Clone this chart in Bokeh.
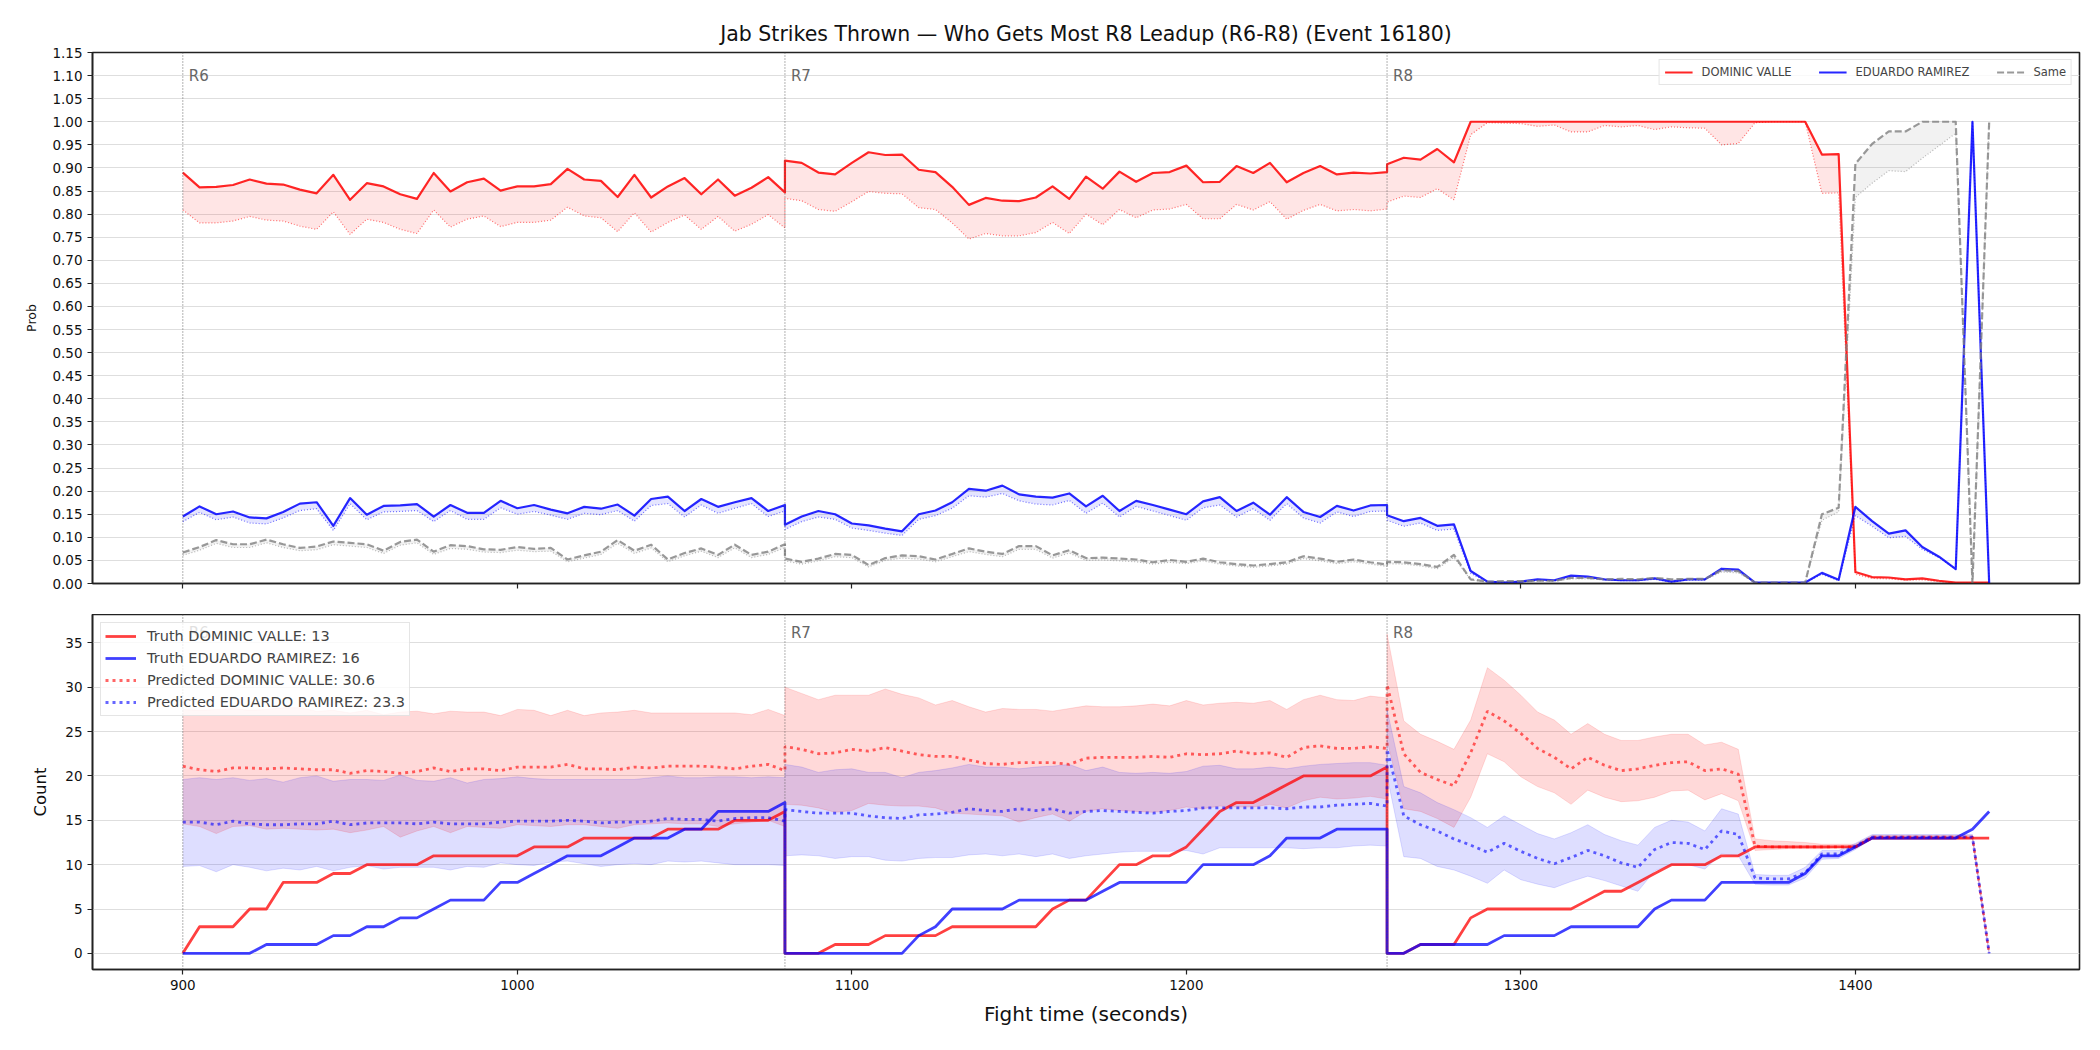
from bokeh.plotting import figure
from bokeh.models import (Range1d, FixedTicker, ColumnDataSource, Span, Label,
                          NumeralTickFormatter)
from bokeh.layouts import column
from bokeh.embed import file_html
from bokeh.resources import INLINE

FONT = "DejaVu Sans"
TITLE = "Jab Strikes Thrown \u2014 Who Gets Most R8 Leadup (R6-R8) (Event 16180)"

ROUND_NAMES = ["R6", "R7", "R8"]
ROUND_STARTS = [900, 1080, 1260]
STEP = 5
N_PER_ROUND = 37
T = [s + STEP * i for s in ROUND_STARTS for i in range(N_PER_ROUND)]

FIGHTER_A = "DOMINIC VALLE"
FIGHTER_B = "EDUARDO RAMIREZ"
TRUTH_A_FINAL = 13
TRUTH_B_FINAL = 16
PRED_A_FINAL = 30.6
PRED_B_FINAL = 23.3

# ---------------- top panel: probabilities ----------------
PROB_A = [
    0.890, 0.858, 0.859, 0.863, 0.875, 0.866, 0.864, 0.853, 0.845, 0.885,
    0.831, 0.867, 0.860, 0.843, 0.833, 0.889, 0.849, 0.869, 0.877, 0.851,
    0.860, 0.860, 0.865, 0.898, 0.875, 0.872, 0.837, 0.885, 0.836, 0.860,
    0.878, 0.843, 0.875, 0.840, 0.857, 0.880, 0.847,
    0.916, 0.911, 0.890, 0.886, 0.911, 0.934, 0.928, 0.929, 0.896, 0.891,
    0.859, 0.820, 0.835, 0.829, 0.828, 0.836, 0.860, 0.833, 0.881, 0.855,
    0.892, 0.870, 0.889, 0.891, 0.905, 0.869, 0.870, 0.904, 0.889, 0.911,
    0.869, 0.889, 0.904, 0.886, 0.890, 0.888, 0.891,
    0.908, 0.922, 0.918, 0.941, 0.912, 1.000, 1.000, 1.000, 1.000, 1.000,
    1.000, 1.000, 1.000, 1.000, 1.000, 1.000, 1.000, 1.000, 1.000, 1.000,
    1.000, 1.000, 1.000, 1.000, 1.000, 1.000, 0.929, 0.930, 0.025, 0.014,
    0.013, 0.009, 0.011, 0.006, 0.002, 0.002, 0.002,
]
PROB_A_LO = [
    0.809, 0.781, 0.781, 0.785, 0.795, 0.787, 0.785, 0.774, 0.767, 0.805,
    0.756, 0.789, 0.782, 0.767, 0.758, 0.809, 0.772, 0.789, 0.796, 0.773,
    0.782, 0.782, 0.787, 0.815, 0.796, 0.792, 0.762, 0.803, 0.761, 0.782,
    0.798, 0.767, 0.795, 0.763, 0.778, 0.799, 0.770,
    0.834, 0.829, 0.810, 0.806, 0.827, 0.849, 0.845, 0.844, 0.814, 0.810,
    0.781, 0.746, 0.758, 0.753, 0.753, 0.760, 0.782, 0.758, 0.800, 0.777,
    0.810, 0.792, 0.809, 0.811, 0.821, 0.790, 0.790, 0.821, 0.809, 0.827,
    0.789, 0.808, 0.821, 0.807, 0.810, 0.807, 0.811,
    0.826, 0.839, 0.836, 0.855, 0.831, 0.972, 0.998, 0.997, 0.996, 0.990,
    0.993, 0.978, 0.978, 0.992, 0.989, 0.992, 0.983, 0.989, 0.987, 0.986,
    0.950, 0.953, 0.998, 1.000, 1.000, 1.000, 0.845, 0.846, 0.020, 0.011,
    0.010, 0.007, 0.008, 0.004, 0.001, 0.001, 0.001,
]
PROB_B = [
    0.145, 0.167, 0.150, 0.156, 0.143, 0.141, 0.155, 0.173, 0.176, 0.125,
    0.185, 0.149, 0.168, 0.169, 0.172, 0.145, 0.170, 0.153, 0.153, 0.179,
    0.163, 0.170, 0.160, 0.152, 0.166, 0.162, 0.171, 0.147, 0.183, 0.188,
    0.157, 0.183, 0.166, 0.176, 0.185, 0.157, 0.170,
    0.127, 0.145, 0.157, 0.150, 0.130, 0.126, 0.119, 0.113, 0.150, 0.158,
    0.176, 0.205, 0.201, 0.212, 0.193, 0.188, 0.186, 0.195, 0.167, 0.190,
    0.157, 0.179, 0.170, 0.160, 0.150, 0.178, 0.187, 0.157, 0.175, 0.149,
    0.187, 0.155, 0.144, 0.168, 0.158, 0.169, 0.170,
    0.148, 0.135, 0.142, 0.125, 0.128, 0.027, 0.004, 0.002, 0.004, 0.009,
    0.007, 0.017, 0.015, 0.009, 0.007, 0.007, 0.011, 0.004, 0.009, 0.009,
    0.032, 0.030, 0.002, 0.002, 0.002, 0.002, 0.023, 0.008, 0.166, 0.135,
    0.108, 0.115, 0.079, 0.058, 0.031, 1.000, 0.000,
]
PROB_B_LO = [
    0.134, 0.154, 0.138, 0.144, 0.131, 0.129, 0.142, 0.158, 0.162, 0.115,
    0.173, 0.138, 0.155, 0.156, 0.158, 0.134, 0.158, 0.139, 0.139, 0.164,
    0.150, 0.156, 0.148, 0.139, 0.152, 0.149, 0.158, 0.135, 0.169, 0.173,
    0.144, 0.170, 0.152, 0.163, 0.173, 0.145, 0.157,
    0.117, 0.134, 0.144, 0.139, 0.120, 0.115, 0.109, 0.104, 0.139, 0.147,
    0.163, 0.190, 0.187, 0.195, 0.179, 0.172, 0.170, 0.180, 0.152, 0.174,
    0.144, 0.167, 0.157, 0.147, 0.137, 0.164, 0.170, 0.144, 0.162, 0.137,
    0.173, 0.142, 0.131, 0.155, 0.145, 0.156, 0.157,
    0.137, 0.124, 0.131, 0.115, 0.118, 0.022, 0.003, 0.002, 0.003, 0.007,
    0.006, 0.014, 0.013, 0.008, 0.006, 0.006, 0.009, 0.003, 0.008, 0.008,
    0.028, 0.026, 0.002, 0.002, 0.002, 0.002, 0.020, 0.006, 0.147, 0.124,
    0.099, 0.102, 0.074, 0.056, 0.031, 1.000, 0.000,
]
PROB_SAME = [
    0.067, 0.079, 0.094, 0.085, 0.085, 0.095, 0.085, 0.077, 0.080, 0.091,
    0.088, 0.085, 0.071, 0.090, 0.095, 0.069, 0.083, 0.081, 0.074, 0.073,
    0.079, 0.075, 0.077, 0.052, 0.061, 0.069, 0.094, 0.071, 0.084, 0.052,
    0.066, 0.076, 0.062, 0.084, 0.062, 0.069, 0.085,
    0.054, 0.047, 0.054, 0.064, 0.062, 0.040, 0.055, 0.061, 0.059, 0.052,
    0.064, 0.076, 0.069, 0.064, 0.081, 0.081, 0.061, 0.072, 0.055, 0.056,
    0.054, 0.052, 0.046, 0.051, 0.047, 0.054, 0.046, 0.042, 0.039, 0.042,
    0.046, 0.059, 0.054, 0.047, 0.052, 0.046, 0.041,
    0.047, 0.046, 0.042, 0.036, 0.062, 0.009, 0.004, 0.005, 0.005, 0.006,
    0.006, 0.012, 0.012, 0.009, 0.010, 0.009, 0.012, 0.009, 0.010, 0.010,
    0.029, 0.027, 0.002, 0.002, 0.002, 0.002, 0.150, 0.164, 0.909, 0.952,
    0.979, 0.979, 1.000, 1.000, 1.000, 0.000, 1.000,
]
PROB_SAME_LO = [
    0.061, 0.072, 0.087, 0.078, 0.078, 0.088, 0.078, 0.071, 0.073, 0.084,
    0.081, 0.078, 0.065, 0.083, 0.088, 0.063, 0.076, 0.074, 0.068, 0.067,
    0.072, 0.069, 0.070, 0.047, 0.055, 0.063, 0.087, 0.065, 0.077, 0.047,
    0.060, 0.070, 0.056, 0.077, 0.056, 0.063, 0.078,
    0.049, 0.042, 0.049, 0.058, 0.056, 0.036, 0.050, 0.055, 0.053, 0.047,
    0.058, 0.069, 0.063, 0.058, 0.074, 0.074, 0.055, 0.066, 0.050, 0.051,
    0.049, 0.047, 0.042, 0.046, 0.043, 0.049, 0.042, 0.038, 0.035, 0.038,
    0.042, 0.054, 0.049, 0.043, 0.047, 0.042, 0.037,
    0.043, 0.042, 0.038, 0.032, 0.056, 0.008, 0.003, 0.004, 0.004, 0.005,
    0.005, 0.010, 0.010, 0.008, 0.008, 0.008, 0.010, 0.008, 0.008, 0.008,
    0.025, 0.023, 0.002, 0.002, 0.002, 0.002, 0.137, 0.155, 0.836, 0.867,
    0.894, 0.892, 0.921, 0.948, 0.975, 0.000, 1.000,
]

# ---------------- bottom panel: counts ----------------
TRUTH_A = [
    0, 3, 3, 3, 5, 5, 8, 8, 8, 9, 9, 10, 10, 10, 10, 11, 11, 11, 11, 11,
    11, 12, 12, 12, 13, 13, 13, 13, 13, 14, 14, 14, 14, 15, 15, 15, 16,
    0, 0, 0, 1, 1, 1, 2, 2, 2, 2, 3, 3, 3, 3, 3, 3, 5, 6, 6, 8,
    10, 10, 11, 11, 12, 14, 16, 17, 17, 18, 19, 20, 20, 20, 20, 20, 21,
    0, 0, 1, 1, 1, 4, 5, 5, 5, 5, 5, 5, 6, 7, 7, 8, 9, 10, 10, 10,
    11, 11, 12, 12, 12, 12, 12, 12, 12, 13, 13, 13, 13, 13, 13, 13, 13,
]
TRUTH_B = [
    0, 0, 0, 0, 0, 1, 1, 1, 1, 2, 2, 3, 3, 4, 4, 5, 6, 6, 6, 8,
    8, 9, 10, 11, 11, 11, 12, 13, 13, 13, 14, 14, 16, 16, 16, 16, 17,
    0, 0, 0, 0, 0, 0, 0, 0, 2, 3, 5, 5, 5, 5, 6, 6, 6, 6, 6, 7,
    8, 8, 8, 8, 8, 10, 10, 10, 10, 11, 13, 13, 13, 14, 14, 14, 14,
    0, 0, 1, 1, 1, 1, 1, 2, 2, 2, 2, 3, 3, 3, 3, 3, 5, 6, 6, 6,
    8, 8, 8, 8, 8, 9, 11, 11, 12, 13, 13, 13, 13, 13, 13, 14, 16,
]
PRED_A = [
    21.1, 20.7, 20.5, 20.9, 20.9, 20.8, 20.9, 20.8, 20.7, 20.7,
    20.3, 20.6, 20.5, 20.3, 20.5, 20.9, 20.5, 20.8, 20.8, 20.6,
    21.0, 21.0, 21.0, 21.3, 20.8, 20.8, 20.7, 21.0, 20.9, 21.1,
    21.1, 21.1, 21.0, 20.8, 21.1, 21.3, 20.6,
    23.3, 23.0, 22.5, 22.6, 23.0, 22.8, 23.2, 22.8, 22.4, 22.2,
    22.2, 21.8, 21.4, 21.3, 21.5, 21.5, 21.5, 21.3, 22.0, 22.1,
    22.1, 22.1, 22.2, 22.1, 22.5, 22.4, 22.5, 22.8, 22.5, 22.6,
    22.1, 23.2, 23.4, 23.1, 23.1, 23.3, 23.1,
    30.3, 22.5, 20.4, 19.6, 18.9, 22.6, 27.3, 26.2, 24.8, 23.1,
    22.1, 20.8, 22.1, 21.2, 20.6, 20.8, 21.2, 21.5, 21.6, 20.6,
    20.8, 20.2, 12.1, 12.0, 12.0, 12.0, 12.0, 12.0, 12.0, 13.1,
    13.1, 13.1, 13.1, 13.1, 13.1, 13.1, 0.0,
]
PRED_A_HI = [
    27.5, 27.4, 27.5, 27.6, 27.4, 27.5, 27.7, 27.7, 27.3, 27.4,
    27.1, 27.4, 26.9, 27.2, 27.3, 27.0, 27.3, 27.2, 27.2, 26.8,
    27.5, 27.4, 26.8, 27.4, 26.8, 27.1, 27.2, 27.4, 27.1, 27.1,
    27.1, 27.1, 27.1, 27.1, 26.9, 27.5, 26.8,
    30.0, 29.3, 28.6, 29.1, 29.1, 29.1, 29.8, 29.2, 28.8, 28.0,
    28.5, 27.8, 27.2, 27.6, 27.5, 27.5, 27.3, 27.6, 27.9, 27.8,
    27.8, 27.9, 28.1, 27.9, 28.5, 28.0, 28.2, 28.3, 28.2, 28.5,
    27.5, 28.6, 29.1, 28.6, 28.5, 29.0, 28.8,
    36.0, 26.2, 24.7, 23.9, 23.0, 26.3, 32.2, 30.8, 29.1, 27.2,
    26.3, 24.7, 25.9, 24.7, 24.0, 24.0, 24.4, 24.7, 24.7, 23.5,
    23.8, 23.0, 12.9, 12.7, 12.6, 12.5, 12.3, 12.3, 12.3, 13.3,
    13.3, 13.3, 13.3, 13.3, 13.3, 13.3, 0.0,
]
PRED_A_LO = [
    14.6, 14.3, 13.5, 14.3, 14.4, 14.0, 14.1, 14.0, 13.9, 14.0,
    13.6, 13.9, 14.3, 13.1, 13.8, 14.3, 13.6, 14.3, 14.2, 14.1,
    14.5, 14.4, 14.3, 14.5, 14.5, 14.3, 14.1, 14.5, 14.6, 14.7,
    14.6, 14.6, 14.3, 14.6, 14.8, 15.0, 14.3,
    16.8, 16.7, 16.4, 15.9, 16.1, 16.9, 16.7, 16.6, 16.6, 16.4,
    15.8, 15.7, 15.6, 15.5, 14.8, 15.3, 15.7, 14.9, 16.0, 16.3,
    16.1, 16.0, 15.9, 16.1, 16.5, 16.3, 16.6, 16.5, 16.5, 16.8,
    16.4, 17.2, 17.6, 17.4, 17.5, 17.7, 17.4,
    24.0, 16.3, 16.0, 15.2, 14.2, 17.6, 22.5, 21.6, 19.9, 18.8,
    18.1, 16.8, 18.4, 17.6, 17.1, 17.2, 17.6, 18.3, 18.4, 17.3,
    18.0, 17.2, 11.6, 11.7, 11.8, 11.8, 11.8, 11.9, 11.9, 12.9,
    12.9, 12.9, 12.9, 12.9, 12.9, 12.9, 0.0,
]
PRED_B = [
    14.8, 14.8, 14.5, 14.9, 14.6, 14.5, 14.5, 14.6, 14.6, 14.9,
    14.5, 14.7, 14.7, 14.7, 14.6, 14.8, 14.6, 14.6, 14.6, 14.8,
    14.9, 14.9, 14.9, 15.0, 14.9, 14.7, 14.8, 14.8, 14.9, 15.2,
    15.1, 15.1, 14.9, 15.2, 15.3, 15.3, 14.9,
    16.2, 16.0, 15.8, 15.8, 15.8, 15.5, 15.3, 15.2, 15.6, 15.7,
    15.9, 16.3, 16.1, 16.0, 16.3, 16.1, 16.3, 15.8, 16.0, 16.1,
    16.0, 15.9, 15.8, 16.0, 16.1, 16.4, 16.4, 16.4, 16.4, 16.4,
    16.3, 16.5, 16.5, 16.7, 16.8, 16.9, 16.6,
    23.0, 15.5, 14.5, 13.8, 12.9, 12.2, 11.4, 12.4, 11.5, 10.7,
    10.1, 10.8, 11.6, 11.0, 10.2, 9.7, 11.7, 12.5, 12.4, 11.7,
    13.8, 13.4, 8.5, 8.4, 8.4, 9.1, 11.2, 11.2, 12.1, 13.1,
    13.1, 13.1, 13.1, 13.1, 13.1, 13.1, 0.0,
]
PRED_B_HI = [
    19.6, 19.8, 19.6, 19.8, 19.5, 19.7, 19.3, 19.8, 20.0, 19.4,
    19.6, 19.6, 19.5, 20.1, 19.5, 19.4, 19.8, 19.2, 19.6, 19.7,
    19.9, 19.7, 19.6, 19.6, 19.6, 19.6, 19.6, 19.6, 19.8, 20.0,
    19.8, 19.8, 19.9, 19.9, 19.8, 19.9, 19.8,
    21.3, 21.0, 20.4, 20.7, 20.8, 20.4, 20.4, 19.8, 20.4, 20.6,
    20.9, 21.3, 21.0, 21.0, 20.8, 21.0, 21.1, 21.3, 20.6, 21.0,
    20.4, 20.3, 20.4, 20.3, 20.5, 21.1, 21.2, 20.8, 20.8, 21.0,
    20.8, 21.1, 21.3, 21.4, 21.5, 21.5, 21.2,
    27.5, 18.8, 18.1, 17.0, 16.2, 15.3, 14.2, 15.5, 14.5, 13.5,
    12.9, 13.6, 14.5, 13.4, 12.7, 12.2, 14.2, 15.0, 14.8, 13.8,
    16.3, 15.7, 8.9, 8.8, 8.8, 9.7, 11.6, 11.6, 12.4, 13.4,
    13.4, 13.4, 13.4, 13.4, 13.4, 13.4, 0.0,
]
PRED_B_LO = [
    9.8, 9.9, 9.2, 10.0, 9.7, 9.3, 9.6, 9.4, 9.8, 9.3,
    9.7, 9.9, 9.5, 9.7, 9.7, 9.7, 9.4, 9.8, 9.7, 10.2,
    10.0, 9.9, 10.3, 10.4, 10.1, 9.8, 10.0, 10.1, 10.0, 10.4,
    10.3, 10.4, 10.2, 10.0, 10.0, 10.0, 9.9,
    11.0, 11.1, 11.0, 10.7, 10.9, 10.9, 10.5, 10.4, 10.7, 10.8,
    10.8, 11.1, 11.2, 11.0, 11.2, 10.9, 11.2, 10.7, 11.0, 11.2,
    11.4, 11.5, 11.5, 11.5, 11.6, 11.2, 11.9, 11.9, 11.9, 11.9,
    11.9, 11.8, 11.9, 11.9, 12.1, 12.2, 12.1,
    20.0, 10.9, 10.7, 9.8, 9.4, 8.7, 7.9, 9.4, 8.3, 7.8,
    7.4, 8.1, 8.7, 8.2, 7.6, 7.0, 9.3, 10.0, 10.0, 9.5,
    11.2, 11.0, 7.8, 7.7, 7.7, 8.5, 10.6, 10.7, 11.7, 12.9,
    12.9, 12.9, 12.9, 12.9, 12.9, 12.9, 0.0,
]

X_TICKS = [900, 1000, 1100, 1200, 1300, 1400]
PROB_TICKS = [round(0.05 * i, 2) for i in range(24)]
COUNT_TICKS = [0, 5, 10, 15, 20, 25, 30, 35]

src = ColumnDataSource(dict(
    t=T, pa=PROB_A, pa_lo=PROB_A_LO, pb=PROB_B, pb_lo=PROB_B_LO,
    ps=PROB_SAME, ps_lo=PROB_SAME_LO,
    ta=TRUTH_A, tb=TRUTH_B, ca=PRED_A, ca_hi=PRED_A_HI, ca_lo=PRED_A_LO,
    cb=PRED_B, cb_hi=PRED_B_HI, cb_lo=PRED_B_LO,
))

x_range = Range1d(873, 1467)


def style_axes(p):
    p.outline_line_color = "#222222"
    p.outline_line_width = 1.6
    p.outline_line_alpha = 1
    for ax in (p.xaxis[0], p.yaxis[0]):
        ax.axis_line_color = "#222222"
        ax.axis_line_width = 1.6
        ax.major_tick_line_color = "#222222"
        ax.major_tick_line_width = 1.2
        ax.major_tick_out = 5
        ax.major_tick_in = 0
        ax.minor_tick_line_color = None
        ax.major_label_text_font = FONT
        ax.major_label_text_font_size = "13.5px"
        ax.major_label_text_color = "#111111"
        ax.axis_label_text_font = FONT
        ax.axis_label_text_font_style = "normal"
        ax.axis_label_text_color = "#111111"
    p.xgrid.grid_line_color = None
    p.ygrid.grid_line_color = "#dedede"
    p.ygrid.grid_line_width = 1


def add_rounds(p, ytext):
    for name, start in zip(ROUND_NAMES, ROUND_STARTS):
        p.add_layout(Span(location=start, dimension="height", line_color="#555555",
                          line_alpha=0.9, line_width=1, line_dash="1 2"))
        p.add_layout(Label(x=start, y=ytext, text=name, x_offset=6,
                           text_baseline="middle", text_font=FONT,
                           text_font_size="15px", text_color="#666666"))


# ---------------- top figure ----------------
p1 = figure(width=2100, height=614, x_range=x_range, y_range=Range1d(0, 1.15),
            output_backend="svg", toolbar_location=None, title=TITLE,
            min_border_left=92, min_border_right=21, min_border_top=52,
            min_border_bottom=31)
p1.title.text_font = FONT
p1.title.text_font_size = "20.5px"
p1.title.text_font_style = "normal"
p1.title.align = "center"
p1.title.text_color = "#111111"
p1.title.standoff = 14
style_axes(p1)
p1.xaxis.ticker = FixedTicker(ticks=X_TICKS)
p1.xaxis.major_label_overrides = {v: "" for v in X_TICKS}
p1.yaxis.ticker = FixedTicker(ticks=PROB_TICKS)
p1.yaxis.formatter = NumeralTickFormatter(format="0.00")
p1.yaxis.axis_label = "Prob"
p1.yaxis.axis_label_text_font_size = "12.5px"
p1.yaxis.axis_label_standoff = 10

add_rounds(p1, 1.10)

p1.varea(x="t", y1="pa_lo", y2="pa", source=src, fill_color="red", fill_alpha=0.1)
p1.varea(x="t", y1="pb_lo", y2="pb", source=src, fill_color="blue", fill_alpha=0.1)
p1.varea(x="t", y1="ps_lo", y2="ps", source=src, fill_color="gray", fill_alpha=0.1)
p1.line("t", "pa_lo", source=src, line_color="red", line_alpha=0.55, line_width=1.2,
        line_dash="1 2")
p1.line("t", "pb_lo", source=src, line_color="blue", line_alpha=0.55, line_width=1.2,
        line_dash="1 2")
p1.line("t", "ps_lo", source=src, line_color="gray", line_alpha=0.55, line_width=1.2,
        line_dash="1 2")
p1.line("t", "pa", source=src, line_color="red", line_alpha=0.85, line_width=2.2,
        line_join="round", legend_label=FIGHTER_A)
p1.line("t", "pb", source=src, line_color="blue", line_alpha=0.85, line_width=2.2,
        line_join="round", legend_label=FIGHTER_B)
p1.line("t", "ps", source=src, line_color="gray", line_alpha=0.8, line_width=2.2,
        line_dash="7 3", line_join="round", legend_label="Same")

lg1 = p1.legend[0]
lg1.location = "top_right"
lg1.orientation = "horizontal"
lg1.margin = 7
lg1.padding = 5
lg1.spacing = 27
lg1.glyph_width = 28
lg1.glyph_height = 14
lg1.label_height = 14
lg1.label_standoff = 9
lg1.label_text_font = FONT
lg1.label_text_font_size = "11.5px"
lg1.border_line_color = "#cccccc"
lg1.background_fill_alpha = 0.8

# ---------------- bottom figure ----------------
p2 = figure(width=2100, height=436, x_range=x_range, y_range=Range1d(-1.82, 38.2),
            output_backend="svg", toolbar_location=None,
            min_border_left=92, min_border_right=21, min_border_top=0,
            min_border_bottom=81)
style_axes(p2)
p2.xaxis.ticker = FixedTicker(ticks=X_TICKS)
p2.xaxis.axis_label = "Fight time (seconds)"
p2.xaxis.axis_label_text_font_size = "20px"
p2.xaxis.axis_label_standoff = 9
p2.yaxis.ticker = FixedTicker(ticks=COUNT_TICKS)
p2.yaxis.axis_label = "Count"
p2.yaxis.axis_label_text_font_size = "16.5px"
p2.yaxis.axis_label_standoff = 12

add_rounds(p2, 36.1)

p2.varea(x="t", y1="ca_lo", y2="ca_hi", source=src, fill_color="red", fill_alpha=0.15)
p2.varea(x="t", y1="cb_lo", y2="cb_hi", source=src, fill_color="blue", fill_alpha=0.13)
for col, c in (("ca_lo", "red"), ("ca_hi", "red"), ("cb_lo", "blue"), ("cb_hi", "blue")):
    p2.line("t", col, source=src, line_color=c, line_alpha=0.12, line_width=1)

p2.line("t", "ta", source=src, line_color="red", line_alpha=0.75, line_width=2.8,
        line_join="round", legend_label=f"Truth {FIGHTER_A}: {TRUTH_A_FINAL}")
p2.line("t", "tb", source=src, line_color="blue", line_alpha=0.75, line_width=2.8,
        line_join="round", legend_label=f"Truth {FIGHTER_B}: {TRUTH_B_FINAL}")
p2.line("t", "ca", source=src, line_color="red", line_alpha=0.6, line_width=2.8,
        line_dash="3 4", legend_label=f"Predicted {FIGHTER_A}: {PRED_A_FINAL}")
p2.line("t", "cb", source=src, line_color="blue", line_alpha=0.6, line_width=2.8,
        line_dash="3 4", legend_label=f"Predicted {FIGHTER_B}: {PRED_B_FINAL}")

lg2 = p2.legend[0]
lg2.location = "top_left"
lg2.margin = 8
lg2.padding = 4
lg2.spacing = 4
lg2.glyph_width = 31
lg2.glyph_height = 18
lg2.label_height = 18
lg2.label_standoff = 11
lg2.label_text_font = FONT
lg2.label_text_font_size = "14.5px"
lg2.border_line_color = "#cccccc"
lg2.background_fill_alpha = 0.8

layout = column(p1, p2, spacing=0)
open("out.html", "w").write(file_html(layout, INLINE))
